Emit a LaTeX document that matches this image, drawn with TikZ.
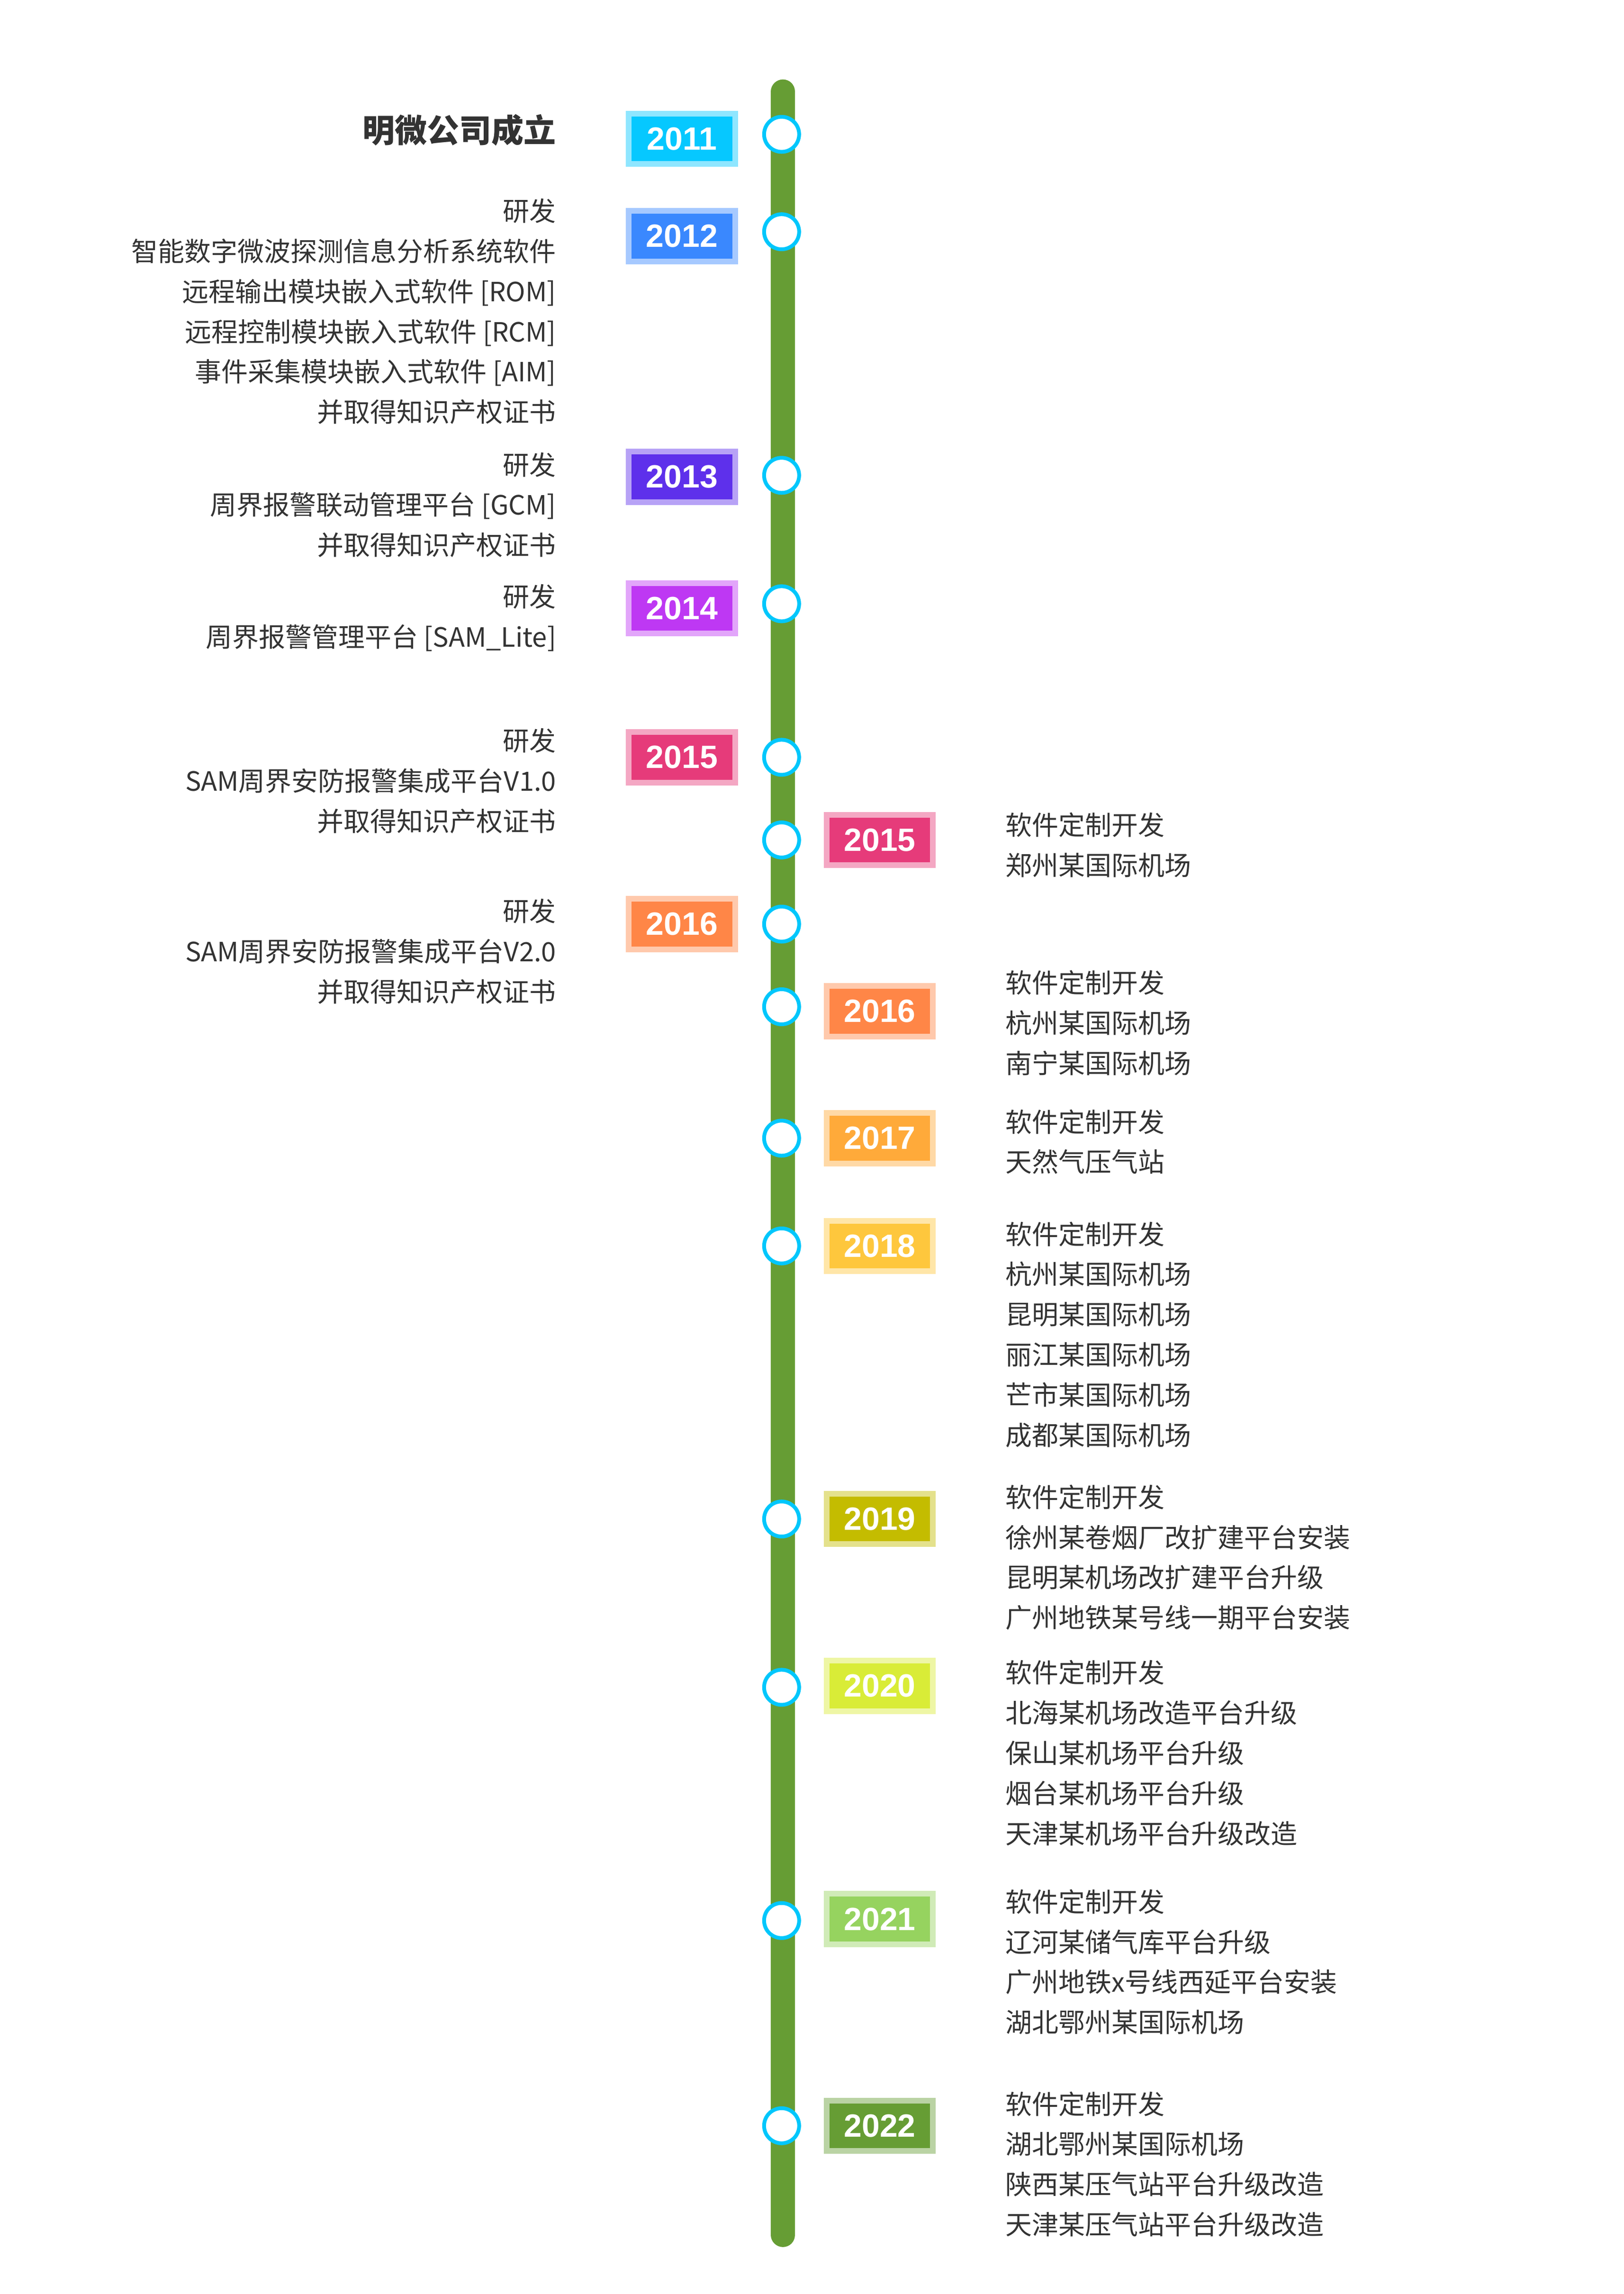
\documentclass[tikz,border=0pt]{standalone}
\usepackage{fontspec}
\setmainfont{Noto Sans CJK SC}
\newfontfamily\yrfont{Liberation Sans}
\definecolor{txt}{HTML}{333333}
\definecolor{lg}{HTML}{669D34}
\definecolor{ring}{HTML}{00C7FC}
\definecolor{cA}{HTML}{06C8FF}
\definecolor{cB}{HTML}{3A88FE}
\definecolor{cC}{HTML}{5E30EB}
\definecolor{cD}{HTML}{BE38F3}
\definecolor{cE}{HTML}{E63B7A}
\definecolor{cF}{HTML}{FF8647}
\definecolor{cG}{HTML}{FFAA3A}
\definecolor{cH}{HTML}{FEC73D}
\definecolor{cI}{HTML}{C4BC00}
\definecolor{cJ}{HTML}{D9EC37}
\definecolor{cK}{HTML}{96D35F}
\definecolor{cL}{HTML}{669D34}
\tikzset{
 yearbox/.style={fill=#1, draw=#1!45!white, line width=3pt, minimum width=56.2pt, minimum height=26.6pt, inner sep=0pt, text=white, font=\yrfont\bfseries\fontsize{17}{17}\selectfont},
 dot/.style={circle, fill=white, draw=ring, line width=2pt, minimum size=18.5pt, inner sep=0pt},
 ltext/.style={anchor=east, align=right, text=txt, font=\fontsize{14}{21.2}\selectfont, inner sep=0pt},
 rtext/.style={anchor=west, align=left, text=txt, font=\fontsize{14}{21.2}\selectfont, inner sep=0pt},
}
\begin{document}
\begin{tikzpicture}[x=0.779pt,y=-0.779pt]
\useasboundingbox (0,0) rectangle (1100,1554);
\coordinate (top) at (530.5,62);
\coordinate (bot) at (530.5,1514);
\draw[lg, line width=12.75pt, line cap=round] (top) -- (bot);
% dots
\foreach \n/\y in {a/91,b/157,c/322,d/409,e/513,f/569,g/626,h/682,i/771,j/844,k/1029,l/1143,m/1301,n/1440}
  \node[dot] (d\n) at (529.5,\y) {};
% left boxes
\node[yearbox=cA] (y2011) at (462,94) {2011};
\node[yearbox=cB] (y2012) at (462,160) {2012};
\node[yearbox=cC] (y2013) at (462,323) {2013};
\node[yearbox=cD] (y2014) at (462,412) {2014};
\node[yearbox=cE] (y2015a) at (462,513) {2015};
\node[yearbox=cF] (y2016a) at (462,626) {2016};
% right boxes
\node[yearbox=cE] (y2015b) at (596,569) {2015};
\node[yearbox=cF] (y2016b) at (596,685) {2016};
\node[yearbox=cG] (y2017) at (596,771) {2017};
\node[yearbox=cH] (y2018) at (596,844) {2018};
\node[yearbox=cI] (y2019) at (596,1029) {2019};
\node[yearbox=cJ] (y2020) at (596,1142) {2020};
\node[yearbox=cK] (y2021) at (596,1300) {2021};
\node[yearbox=cL] (y2022) at (596,1440) {2022};
% left texts
\node[ltext, font=\bfseries\fontsize{17}{20}\selectfont] (t2011) at (377,88) {明微公司成立};
\node[ltext] (t2012) at (377,211) {研发\\智能数字微波探测信息分析系统软件\\远程输出模块嵌入式软件 [ROM]\\远程控制模块嵌入式软件 [RCM]\\事件采集模块嵌入式软件 [AIM]\\并取得知识产权证书};
\node[ltext] (t2013) at (377,342) {研发\\周界报警联动管理平台 [GCM]\\并取得知识产权证书};
\node[ltext] (t2014) at (377,418.5) {研发\\周界报警管理平台 [SAM\_Lite]};
\node[ltext] (t2015a) at (377,529) {研发\\SAM周界安防报警集成平台V1.0\\并取得知识产权证书};
\node[ltext] (t2016a) at (377,644.5) {研发\\SAM周界安防报警集成平台V2.0\\并取得知识产权证书};
% right texts
\node[rtext] (t2015b) at (681,572.5) {软件定制开发\\郑州某国际机场};
\node[rtext] (t2016b) at (681,693) {软件定制开发\\杭州某国际机场\\南宁某国际机场};
\node[rtext] (t2017) at (681,773.5) {软件定制开发\\天然气压气站};
\node[rtext] (t2018) at (681,904) {软件定制开发\\杭州某国际机场\\昆明某国际机场\\丽江某国际机场\\芒市某国际机场\\成都某国际机场};
\node[rtext] (t2019) at (681,1055) {软件定制开发\\徐州某卷烟厂改扩建平台安装\\昆明某机场改扩建平台升级\\广州地铁某号线一期平台安装};
\node[rtext] (t2020) at (681,1187.5) {软件定制开发\\北海某机场改造平台升级\\保山某机场平台升级\\烟台某机场平台升级\\天津某机场平台升级改造};
\node[rtext] (t2021) at (681,1329) {软件定制开发\\辽河某储气库平台升级\\广州地铁x号线西延平台安装\\湖北鄂州某国际机场};
\node[rtext] (t2022) at (681,1466) {软件定制开发\\湖北鄂州某国际机场\\陕西某压气站平台升级改造\\天津某压气站平台升级改造};
\end{tikzpicture}
\end{document}
